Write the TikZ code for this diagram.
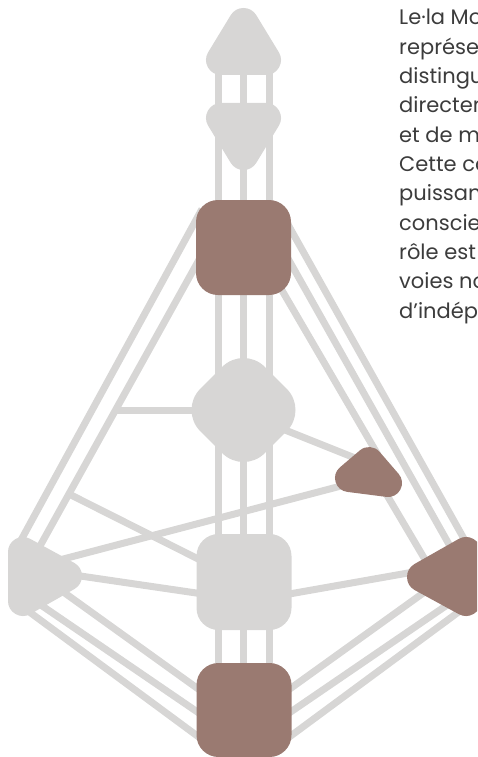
\documentclass[tikz,border=0pt]{standalone}
\usepackage{fontspec}
\setmainfont{Poppins}
\definecolor{cgray}{HTML}{D7D6D5}
\definecolor{cbrown}{HTML}{9A7A71}
\definecolor{ctext}{HTML}{3C3C3C}
\tikzset{
  chan/.style={draw=cgray, line width=7pt},
  blob/.style={line join=round, line width=#1},
  sqbox/.style={rounded corners=22pt, minimum width=95pt, minimum height=95pt, inner sep=0pt, draw=none},
  txt/.style={anchor=base west, inner sep=0pt, text=ctext, font=\fontsize{21}{25}\selectfont}
}
\begin{document}
\begin{tikzpicture}[x=1pt,y=-1pt]
\useasboundingbox (0,0) rectangle (477,757);
\clip (0,0) rectangle (477,757);

% ---- named points ----
\coordinate (headc) at (243.5,45);
\coordinate (ajnac) at (243.5,130);
\coordinate (throatc) at (243.5,247.5);
\coordinate (gc) at (243.5,410);
\coordinate (sacralc) at (244,582);
\coordinate (rootc) at (244,710);
\coordinate (heartc) at (370,472);
\coordinate (spleenc) at (40,576);
\coordinate (spc) at (447,576);

% vertical channel ends
\coordinate (vlt) at (218,60);   \coordinate (vlb) at (218,715);
\coordinate (vmt) at (243.5,60); \coordinate (vmb) at (243.5,715);
\coordinate (vrt) at (269,60);   \coordinate (vrb) at (269,715);

% left outer channels
\coordinate (l1a) at (202,209);  \coordinate (l1b) at (20,542);
\coordinate (l2a) at (200,258);  \coordinate (l2b) at (40,546);
\coordinate (l3b) at (115.4,410);
\coordinate (l4a) at (69,494);
\coordinate (l5a) at (50,562.5); \coordinate (l5b) at (360,481);
\coordinate (l6a) at (60,573);   \coordinate (l6b) at (244,600);
% spleen - root
\coordinate (sa1) at (55,586);   \coordinate (sa2) at (215,701);
\coordinate (sb1) at (35,601);   \coordinate (sb2) at (215,724);
\coordinate (sc1) at (20,605);   \coordinate (sc2) at (215,749);
% solar plexus - root
\coordinate (pa1) at (433,586);  \coordinate (pa2) at (273,701);
\coordinate (pb1) at (453,601);  \coordinate (pb2) at (273,724);
\coordinate (pc1) at (468,605);  \coordinate (pc2) at (273,749);
% solar plexus - sacral
\coordinate (ps1) at (425,570);  \coordinate (ps2) at (244,602);
% right outer channels
\coordinate (r1a) at (286,221);  \coordinate (r1b) at (468,546);
\coordinate (r2a) at (286,255);  \coordinate (r2b) at (455,555);
% heart channels
\coordinate (hg1) at (260,420);  \coordinate (hg2) at (360,460);
\coordinate (ht1) at (280,287);  \coordinate (ht2) at (378,455);
\coordinate (hs1) at (378,480);  \coordinate (hs2) at (430,568);

% ---- channels ----
\draw[chan] (vlt) -- (vlb);
\draw[chan] (vmt) -- (vmb);
\draw[chan] (vrt) -- (vrb);
\draw[chan] (l1a) -- (l1b);
\draw[chan] (l2a) -- (l2b);
\draw[chan] (gc) -- (l3b);
\draw[chan] (l4a) -- (sacralc);
\draw[chan] (l5a) -- (l5b);
\draw[chan] (l6a) -- (l6b);
\draw[chan] (sa1) -- (sa2);
\draw[chan] (sb1) -- (sb2);
\draw[chan] (sc1) -- (sc2);
\draw[chan] (pa1) -- (pa2);
\draw[chan] (pb1) -- (pb2);
\draw[chan] (pc1) -- (pc2);
\draw[chan] (ps1) -- (ps2);
\draw[chan] (r1a) -- (r1b);
\draw[chan] (r2a) -- (r2b);
\draw[chan] (hg1) -- (hg2);
\draw[chan] (ht1) -- (ht2);
\draw[chan] (hs1) -- (hs2);

% ---- centres ----
% head
\filldraw[cgray, blob=30pt] (243.5,23) -- (221,60) -- (266,60) -- cycle;
% ajna
\filldraw[cgray, blob=30pt] (221,118) -- (266,118) -- (243.5,155) -- cycle;
% throat
\node[sqbox, fill=cbrown] (throat) at (throatc) {};
% G
\filldraw[cgray, blob=60pt] (221.5,410) -- (243.5,388) -- (265.5,410) -- (243.5,432) -- cycle;
% heart
\filldraw[cbrown, blob=28pt] (369,461) -- (349,478) -- (388,483) -- cycle;
% spleen
\filldraw[cgray, blob=30pt] (23,552) -- (67,576) -- (23,601) -- cycle;
% solar plexus
\filldraw[cbrown, blob=30pt] (422,577) -- (466,552) -- (466,601) -- cycle;
% sacral
\node[sqbox, fill=cgray, minimum height=96pt] (sacral) at (sacralc) {};
% root
\node[sqbox, fill=cbrown, minimum height=94pt] (root) at (rootc) {};

% ---- text ----
\foreach \t [count=\i from 0] in {Le·la Mo, représe, distingu, directen, et de mo, Cette co, puissanc, conscien, rôle est, voies no, d’indépe}
  \node[txt] (line\i) at (399,{25+29.3*\i}) {\t};
\end{tikzpicture}
\end{document}
